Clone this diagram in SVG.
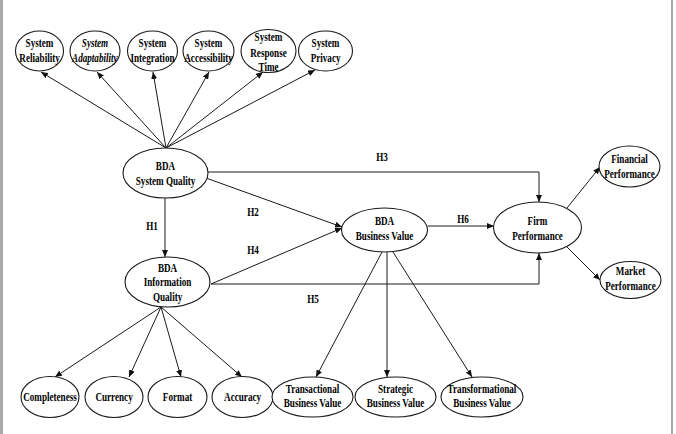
<svg xmlns="http://www.w3.org/2000/svg" width="676" height="434" viewBox="0 0 676 434">
  <style>
    .node ellipse { fill: #fff; stroke: #1a1a1a; stroke-width: 1.1; }
    text { font-family: "Liberation Serif", "Times New Roman", serif; font-weight: bold; font-size: 12.5px; fill: #000; text-anchor: middle; transform-box: fill-box; transform-origin: center; transform: scaleX(0.73); }
    .it { font-style: italic; }
    .edge { fill: none; stroke: #1a1a1a; stroke-width: 1; marker-end: url(#arrow); }
    .frame { fill: #a8a8a8; }
  </style>
  <defs>
    <marker id="arrow" markerUnits="userSpaceOnUse" markerWidth="8" markerHeight="6" refX="7" refY="3" orient="auto">
      <path d="M0,0 L7,3 L0,6 z" fill="#111"/>
    </marker>
  </defs>

  <rect width="676" height="434" fill="#fff"/>
  <rect class="frame" x="0" y="0" width="3" height="434"/>
  <rect class="frame" x="671" y="0" width="2" height="434"/>

  <!-- connectors -->
  <g id="connectors">
    <line class="edge" x1="166" y1="148" x2="41" y2="72"/>
    <line class="edge" x1="166" y1="148" x2="97" y2="72"/>
    <line class="edge" x1="166" y1="148" x2="153" y2="72"/>
    <line class="edge" x1="166" y1="148" x2="209" y2="72"/>
    <line class="edge" x1="166" y1="148" x2="263" y2="72"/>
    <line class="edge" x1="166" y1="148" x2="315" y2="70"/>

    <line class="edge" x1="165" y1="198" x2="165" y2="257"/>
    <polyline class="edge" points="208,172 539,172 539,202"/>
    <line class="edge" x1="206" y1="178" x2="342" y2="227"/>
    <line class="edge" x1="211" y1="284" x2="342" y2="228"/>
    <polyline class="edge" points="211,284 539,284 539,253"/>
    <line class="edge" x1="428" y1="226" x2="494" y2="226"/>
    <line class="edge" x1="567" y1="208" x2="600" y2="167"/>
    <line class="edge" x1="567" y1="247" x2="600" y2="280"/>

    <line class="edge" x1="382" y1="252" x2="316" y2="377"/>
    <line class="edge" x1="387" y1="252" x2="387" y2="377"/>
    <line class="edge" x1="393" y1="252" x2="472" y2="377"/>

    <line class="edge" x1="161" y1="307" x2="55" y2="377"/>
    <line class="edge" x1="161" y1="307" x2="129" y2="377"/>
    <line class="edge" x1="161" y1="307" x2="181" y2="377"/>
    <line class="edge" x1="161" y1="307" x2="242" y2="377"/>

    <text x="152" y="230">H1</text>
    <text x="253" y="216">H2</text>
    <text x="382" y="161">H3</text>
    <text x="253" y="254">H4</text>
    <text x="313" y="303">H5</text>
    <text x="463" y="223">H6</text>
  </g>

  <!-- system quality dimensions -->
  <g id="sys-reliability" class="node">
    <ellipse cx="39.5" cy="51" rx="24" ry="20"/>
    <text x="39.5" y="47">System</text>
    <text x="39.5" y="62">Reliability</text>
  </g>
  <g id="sys-adaptability" class="node">
    <ellipse cx="95" cy="51" rx="25" ry="20"/>
    <text class="it" x="95" y="47">System</text>
    <text class="it" x="95" y="62">Adaptability</text>
  </g>
  <g id="sys-integration" class="node">
    <ellipse cx="152.5" cy="51" rx="25" ry="20"/>
    <text x="152.5" y="47">System</text>
    <text x="152.5" y="62">Integration</text>
  </g>
  <g id="sys-accessibility" class="node">
    <ellipse cx="208.5" cy="51" rx="25.5" ry="20"/>
    <text x="208.5" y="47">System</text>
    <text x="208.5" y="62">Accessibility</text>
  </g>
  <g id="sys-response-time" class="node">
    <ellipse cx="268.5" cy="51" rx="27.5" ry="21.5"/>
    <text x="268.5" y="41">System</text>
    <text x="268.5" y="57">Response</text>
    <text x="268.5" y="71">Time</text>
  </g>
  <g id="sys-privacy" class="node">
    <ellipse cx="325.5" cy="51" rx="27" ry="20"/>
    <text x="325.5" y="47">System</text>
    <text x="325.5" y="62">Privacy</text>
  </g>

  <!-- core constructs -->
  <g id="system-quality" class="node">
    <ellipse cx="165.5" cy="173" rx="42.5" ry="25"/>
    <text x="165.5" y="170">BDA</text>
    <text x="165.5" y="185">System Quality</text>
  </g>
  <g id="information-quality" class="node">
    <ellipse cx="167.5" cy="282" rx="42.5" ry="25"/>
    <text x="167.5" y="272">BDA</text>
    <text x="167.5" y="286">Information</text>
    <text x="167.5" y="301">Quality</text>
  </g>
  <g id="business-value" class="node">
    <ellipse cx="384.5" cy="230" rx="43" ry="22"/>
    <text x="384.5" y="225">BDA</text>
    <text x="384.5" y="240">Business Value</text>
  </g>
  <g id="firm-performance" class="node">
    <ellipse cx="537.5" cy="227.5" rx="44" ry="25.5"/>
    <text x="537.5" y="225">Firm</text>
    <text x="537.5" y="240">Performance</text>
  </g>
  <g id="financial-performance" class="node">
    <ellipse cx="629.5" cy="166.5" rx="30.5" ry="20.5"/>
    <text x="629.5" y="163">Financial</text>
    <text x="629.5" y="178">Performance</text>
  </g>
  <g id="market-performance" class="node">
    <ellipse cx="630.5" cy="280" rx="30.5" ry="18.5"/>
    <text x="630.5" y="275">Market</text>
    <text x="630.5" y="290">Performance</text>
  </g>

  <!-- information quality dimensions -->
  <g id="completeness" class="node">
    <ellipse cx="50" cy="397" rx="29" ry="20.5"/>
    <text x="50" y="401">Completeness</text>
  </g>
  <g id="currency" class="node">
    <ellipse cx="114" cy="397" rx="29" ry="20.5"/>
    <text x="114" y="401">Currency</text>
  </g>
  <g id="format" class="node">
    <ellipse cx="177.5" cy="397" rx="29.5" ry="20.5"/>
    <text x="177.5" y="401">Format</text>
  </g>
  <g id="accuracy" class="node">
    <ellipse cx="242.5" cy="397" rx="30.5" ry="20.5"/>
    <text x="242.5" y="401">Accuracy</text>
  </g>

  <!-- business value dimensions -->
  <g id="transactional-value" class="node">
    <ellipse cx="312.5" cy="397" rx="40.5" ry="20"/>
    <text x="312.5" y="393">Transactional</text>
    <text x="312.5" y="407">Business Value</text>
  </g>
  <g id="strategic-value" class="node">
    <ellipse cx="395.5" cy="397" rx="40.5" ry="20"/>
    <text x="395.5" y="393">Strategic</text>
    <text x="395.5" y="407">Business Value</text>
  </g>
  <g id="transformational-value" class="node">
    <ellipse cx="482" cy="397" rx="41" ry="20"/>
    <text x="482" y="393">Transformational</text>
    <text x="482" y="407">Business Value</text>
  </g>
</svg>
